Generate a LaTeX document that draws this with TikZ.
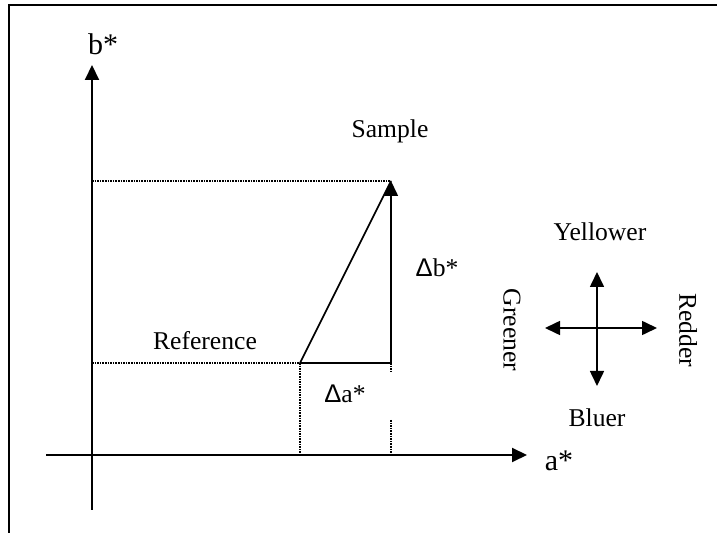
\documentclass[tikz,border=0pt]{standalone}
\usepackage{fontspec}
\setmainfont{Liberation Serif}
\newfontfamily\deltafont{Liberation Sans}
\usetikzlibrary{arrows.meta, positioning}

\begin{document}
\begin{tikzpicture}[x=0.5pt, y=-0.5pt, >={Triangle[length=7.5pt, width=7pt]},
    axis/.style={line width=1pt},
    guide/.style={line width=0.6pt, dash pattern=on 0.8pt off 0.5pt},
    vec/.style={line width=0.8pt},
    lbl/.style={font=\fontsize{12.8}{15}\selectfont, inner sep=0pt},
    axlbl/.style={font=\fontsize{15}{17}\selectfont, inner sep=0pt}]
    \useasboundingbox (0,0) rectangle (717,533);
    \draw[line width=1pt] (717,5) -- (9,5) -- (9,533);

    % axes
    \coordinate (btop) at (92,65);
    \coordinate (bbot) at (92,510);
    \coordinate (aleft) at (46,455);
    \coordinate (aright) at (527,455);
    \draw[axis, ->] (bbot) -- (btop);
    \draw[axis, ->] (aleft) -- (aright);
    \node[axlbl] (bstar) at (103,44) {b*};
    \node[axlbl] (astar) at (559,461) {a*};

    % reference and sample
    \coordinate (ref) at (300,363);
    \coordinate (smp) at (391,181);
    \coordinate (crn) at (391,363);
    \coordinate (bsmp) at (92,181);
    \coordinate (bref) at (92,363);
    \coordinate (aref) at (300,455);
    \coordinate (asmp) at (391,455);
    \coordinate (ctop) at (391,372);
    \coordinate (cbot) at (391,420);

    \draw[guide] (bsmp) -- (smp);
    \draw[guide] (bref) -- (ref) -- (aref);
    \draw[guide] (crn) -- (ctop);
    \draw[guide] (cbot) -- (asmp);

    \draw[vec] (ref) -- (smp);
    \draw[vec] (ref) -- (crn);
    \draw[vec, ->] (crn) -- (smp);

    \node[lbl] (sample) at (390,131) {Sample};
    \node[lbl] (reference) at (205,341) {Reference};
    \node[lbl] (db) at (437,268) {{\deltafont Δ}b*};
    \node[lbl] (da) at (345,394) {{\deltafont Δ}a*};

    % directions
    \coordinate (up) at (597,272);
    \coordinate (down) at (597,386);
    \coordinate (left) at (545,328);
    \coordinate (right) at (657,328);
    \draw[vec, <->] (down) -- (up);
    \draw[vec, <->] (left) -- (right);

    \node[lbl] (yellower) at (600,232) {Yellower};
    \node[lbl] (bluer) at (597,418) {Bluer};
    \node[lbl, rotate=-90] (greener) at (512,330) {Greener};
    \node[lbl, rotate=-90] (redder) at (688,330) {Redder};
\end{tikzpicture}
\end{document}
